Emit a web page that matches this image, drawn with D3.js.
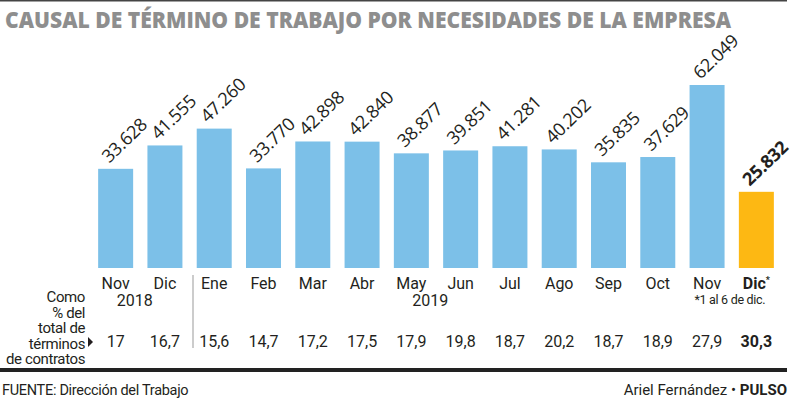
<!DOCTYPE html>
<meta charset="utf-8">
<style>
body { margin: 0; background: #fff; }
svg { display: block; }
text { fill: #231f20; }
.narrow { font-family: "Roboto", "Open Sans", sans-serif; }
.vals { font-family: "Open Sans", sans-serif; }
</style>
<body>
  <svg></svg>
</body>
<script src="https://cdn.jsdelivr.net/npm/d3@7"></script>
<script>

var months = ["Nov", "Dic", "Ene", "Feb", "Mar", "Abr", "May", "Jun", "Jul", "Ago", "Sep", "Oct", "Nov", "Dic"];
var terminos = [33628, 41555, 47260, 33770, 42898, 42840, 38877, 39851, 41281, 40202, 35835, 37629, 62049, 25832];
var porcentajes = ["17", "16,7", "15,6", "14,7", "17,2", "17,5", "17,9", "19,8", "18,7", "20,2", "18,7", "18,9", "27,9", "30,3"];
var years = [{ label: "2018", at: 0 }, { label: "2019", at: 6 }];
var noteLines = ["Como", "% del", "total de", "términos", "de contratos"];

var width = 800, height = 399;
var svg = d3.select("svg").attr("width", width).attr("height", height);

var idx = d3.range(months.length);
var x = d3.scaleBand().domain(idx).range([91, 781]).paddingInner(0.29).paddingOuter(0.145);
var y = d3.scaleLinear().domain([0, 62049]).range([268, 85]);
var last = months.length - 1;
var fmt = function(v) { return d3.format(",")(v).replace(/,/g, "."); };

// top rule + title
svg.append("rect").attr("x", 0).attr("y", 0).attr("width", 787).attr("height", 1.5).attr("fill", "#444");
svg.append("text")
    .attr("x", 5).attr("y", 27.5)
    .attr("textLength", 726).attr("lengthAdjust", "spacingAndGlyphs")
    .style("font-family", "'Open Sans', sans-serif").style("font-weight", 800).style("font-size", "23px")
    .style("fill", "#8e8e8e")
    .text("CAUSAL DE TÉRMINO DE TRABAJO POR NECESIDADES DE LA EMPRESA");

// bars
svg.append("g").selectAll("rect")
  .data(idx)
  .enter().append("rect")
    .attr("x", function(i) { return x(i); })
    .attr("y", function(i) { return y(terminos[i]); })
    .attr("width", x.bandwidth())
    .attr("height", function(i) { return y(0) - y(terminos[i]); })
    .attr("fill", function(i) { return i == last ? "#fdb813" : "#7cc0e8"; });

// rotated value labels
svg.append("g").selectAll("text")
  .data(idx)
  .enter().append("text")
    .attr("class", "vals")
    .attr("transform", function(i) {
      return "translate(" + (x(i) + 11) + "," + (y(terminos[i]) - 5) + ") rotate(-44)";
    })
    .style("font-size", "18px")
    .style("letter-spacing", "-0.3px")
    .style("font-weight", function(i) { return i == last ? 700 : 400; })
    .text(function(i) { return fmt(terminos[i]); });

// month labels
var ml = svg.append("g").selectAll("text")
  .data(idx)
  .enter().append("text")
    .attr("class", "narrow")
    .attr("x", function(i) { return x(i) + x.bandwidth() / 2; })
    .attr("y", 289)
    .attr("text-anchor", "middle")
    .style("font-size", "16px")
    .style("font-weight", function(i) { return i == last ? 700 : 400; })
    .text(function(i) { return months[i]; });
ml.filter(function(i) { return i == last; })
  .append("tspan").attr("dy", -6).style("font-size", "9px").text("*");

svg.append("g").selectAll("text")
  .data(years)
  .enter().append("text")
    .attr("class", "narrow")
    .attr("x", function(d) { return x(d.at) + x.bandwidth() / 2 + 19; })
    .attr("y", 306)
    .attr("text-anchor", "middle")
    .style("font-size", "16px")
    .text(function(d) { return d.label; });

svg.append("text")
    .attr("class", "narrow")
    .attr("x", x(last) - 9)
    .attr("y", 304)
    .attr("text-anchor", "middle")
    .style("font-size", "12.5px")
    .style("letter-spacing", "-0.3px")
    .text("*1 al 6 de dic.");

// separator between years
svg.append("line")
    .attr("x1", 193).attr("x2", 193).attr("y1", 275).attr("y2", 348)
    .attr("stroke", "#999").attr("stroke-width", 1);

// left note
svg.append("g").selectAll("text")
  .data(noteLines)
  .enter().append("text")
    .attr("class", "narrow")
    .attr("x", 85)
    .attr("y", function(d, i) { return 302 + i * 15.6; })
    .attr("text-anchor", "end")
    .style("font-size", "15px")
    .style("letter-spacing", "-0.4px")
    .text(function(d) { return d; });
svg.append("path").attr("d", "M88,337 L93,342 L88,347 Z").attr("fill", "#231f20");

// percentages row
svg.append("g").selectAll("text")
  .data(idx)
  .enter().append("text")
    .attr("class", "narrow")
    .attr("x", function(i) { return x(i) + x.bandwidth() / 2; })
    .attr("y", 347)
    .attr("text-anchor", "middle")
    .style("font-size", "16px")
    .style("font-weight", function(i) { return i == last ? 700 : 400; })
    .text(function(i) { return porcentajes[i]; });

// bottom rule + footer
svg.append("rect").attr("x", 0).attr("y", 368).attr("width", 787).attr("height", 4).attr("fill", "#222");
svg.append("text")
    .attr("class", "narrow")
    .attr("x", 2).attr("y", 395)
    .style("font-size", "14.5px")
    .style("letter-spacing", "-0.3px")
    .text("FUENTE: Dirección del Trabajo");
var credit = svg.append("text")
    .attr("class", "narrow")
    .attr("x", 787).attr("y", 395)
    .attr("text-anchor", "end")
    .style("font-size", "15px");
credit.append("tspan").text("Ariel Fernández • ");
credit.append("tspan").style("font-weight", 700).text("PULSO");

</script>
